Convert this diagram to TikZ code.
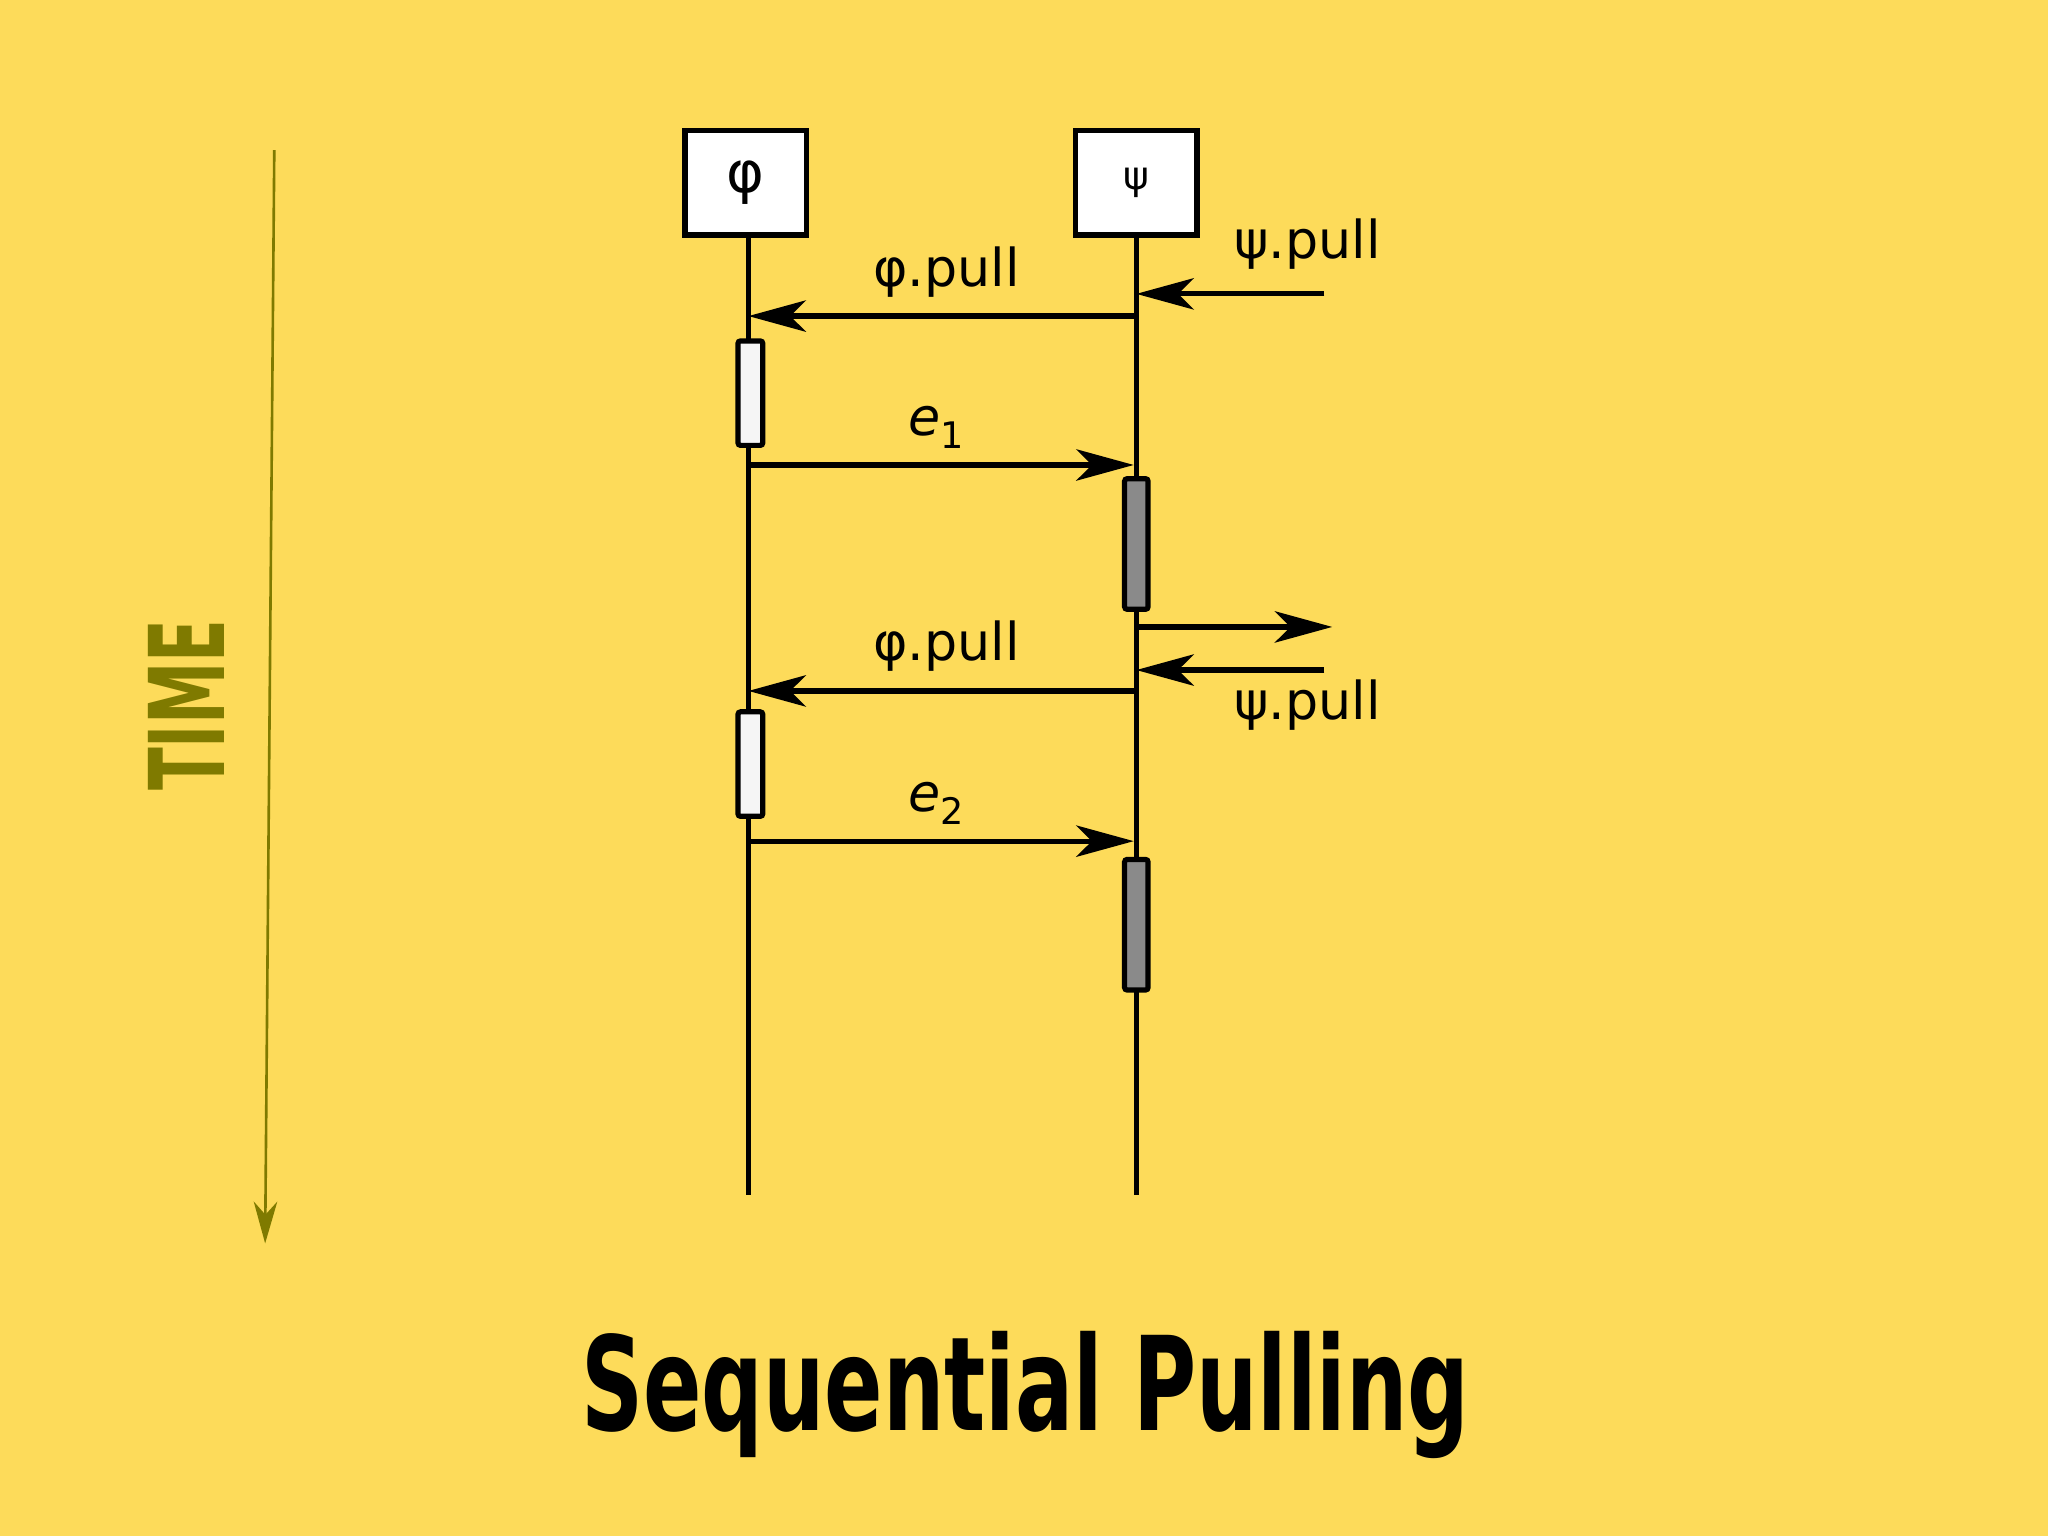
\documentclass[tikz,border=0pt]{standalone}
\usepackage{fontspec}
\setmainfont{DejaVu Sans}
\usetikzlibrary{arrows.meta}
\definecolor{bg}{HTML}{FDDB5A}
\definecolor{olive}{HTML}{7F7A00}
\definecolor{act}{HTML}{8A8A8A}
\tikzset{
  lane/.style={draw,line width=2pt,fill=white,minimum width=46.5pt,minimum height=40pt,inner sep=0pt,font=\fontsize{22}{22}\selectfont},
  actw/.style={draw,line width=2pt,fill=white!92!gray,minimum width=9.5pt,minimum height=40pt,inner sep=0pt,rounded corners=1pt},
  actg/.style={draw,line width=2pt,fill=act,minimum width=9pt,minimum height=50pt,inner sep=0pt,rounded corners=1pt},
  life/.style={line width=2pt},
  msg/.style={line width=2pt,-{Stealth[length=22pt,width=12pt,inset=6pt]}},
  lbl/.style={font=\fontsize{20}{20}\selectfont}
}
\newcommand{\sub}[2]{\textit{#1}\raisebox{-0.25em}{\fontsize{14}{14}\selectfont #2}}
\begin{document}
\begin{tikzpicture}[x=0.5pt,y=-0.5pt]
\fill[bg] (0,0) rectangle (1568,1176);
\useasboundingbox (0,0) rectangle (1568,1176);
% lanes
\node[lane] (phi) at (571,140) {φ};
\node[lane] (psi) at (870,140) {\fontsize{15}{15}\selectfont ψ};
\coordinate (phiend) at (573,915);
\coordinate (psiend) at (870,915);
\draw[life] (phi.south -| phiend) -- (phiend);
\draw[life] (psi.south) -- (psiend);
% activations
\node[actw] (a1) at (574.5,301) {};
\node[actw] (a2) at (574.5,585) {};
\node[actg] (g1) at (870,416.5) {};
\node[actg] (g2) at (870,708) {};
% coordinates
\coordinate (p1) at (573,242); \coordinate (q1) at (868,242);
\coordinate (r1) at (1014,225); \coordinate (s1) at (870,225);
\coordinate (p2) at (573,356); \coordinate (q2) at (868,356);
\coordinate (o1) at (872,480); \coordinate (o2) at (1020,480);
\coordinate (r2) at (1014,513); \coordinate (s2) at (870,513);
\coordinate (p3) at (573,529); \coordinate (q3) at (868,529);
\coordinate (p4) at (573,644); \coordinate (q4) at (868,644);
\draw[msg] (q1) -- node[lbl,above=3pt,xshift=2pt] (l1) {φ.pull} (p1);
\draw[msg] (r1) -- (s1);
\node[lbl] (l2) at (1001,187) {ψ.pull};
\draw[msg] (p2) -- node[lbl,above=2pt,xshift=-2pt] (l3) {\sub{e}{1}} (q2);
\draw[msg] (o1) -- (o2);
\draw[msg] (r2) -- (s2);
\node[lbl] (l4) at (1001,540) {ψ.pull};
\draw[msg] (q3) -- node[lbl,above=3pt,xshift=2pt] (l5) {φ.pull} (p3);
\draw[msg] (p4) -- node[lbl,above=2pt,xshift=-2pt] (l6) {\sub{e}{2}} (q4);
% time
\coordinate (t1) at (210,115); \coordinate (t2) at (203,952);
\draw[olive,line width=1pt,-{Stealth[length=16pt,width=9pt,inset=5pt]}] (t1) -- (t2);
\node[olive,rotate=90,font=\fontsize{40}{40}\selectfont\bfseries,xscale=0.6] (time) at (143,540) {TIME};
% title
\node[font=\fontsize{50}{50}\selectfont\bfseries,xscale=0.66] (title) at (785,1068) {Sequential Pulling};
\end{tikzpicture}
\end{document}
